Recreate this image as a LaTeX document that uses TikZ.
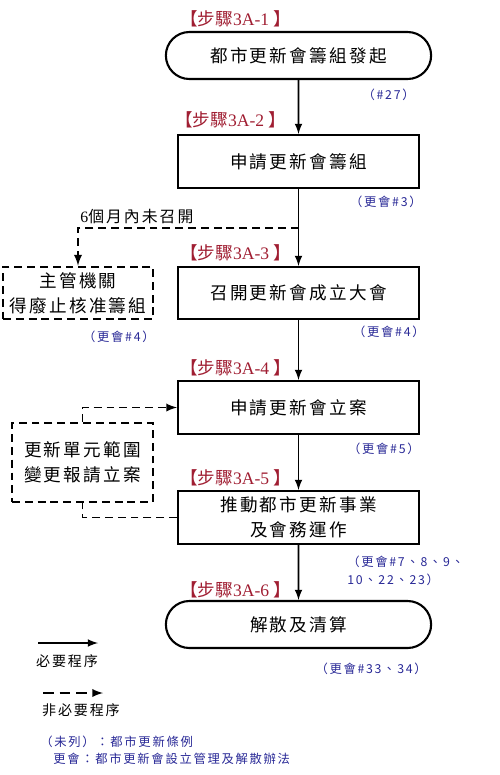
\documentclass[tikz,border=0pt]{standalone}
\usepackage{fontspec}
\setmainfont{Noto Sans CJK TC}
\newfontfamily\latin{Liberation Serif}
\newfontfamily\boxfont[LetterSpace=13]{Noto Sans CJK TC}
\newfontfamily\notefont[LetterSpace=14]{Noto Sans CJK TC}
\usetikzlibrary{shapes.misc}
\definecolor{stepred}{RGB}{160,30,50}
\definecolor{noteblue}{RGB}{40,40,150}
\newcommand{\steplabel}[1]{【步驟{\latin #1}\ 】}

\begin{document}
\begin{tikzpicture}[>=latex, x=0.02cm, y=-0.02cm,
  proc/.style={draw, line width=1.2pt, minimum width=4.82cm, minimum height=1.06cm,
    align=center, font=\boxfont\fontsize{10}{14}\selectfont},
  term/.style={draw, line width=1.2pt, rounded rectangle, minimum width=5.54cm,
    minimum height=0.94cm, font=\boxfont\fontsize{10}{14}\selectfont},
  opt/.style={draw, line width=1.2pt, dash pattern=on 4.5pt off 2.8pt,
    align=center, font=\boxfont\fontsize{10}{14}\selectfont},
  optline/.style={line width=1.1pt, dash pattern=on 4.5pt off 2.8pt},
  mainline/.style={line width=1pt},
  steptag/.style={anchor=west, inner sep=0pt, text=stepred, font=\fontsize{10}{12}\selectfont},
  note/.style={anchor=east, inner sep=0pt, text=noteblue, font=\notefont\fontsize{7}{10}\selectfont}]
\useasboundingbox (0,0) rectangle (500,775);

% main steps
\node[term] (start) at (298.5,55.5) {都市更新會籌組發起};
\node[proc] (apply) at (298.5,161.5) {申請更新會籌組};
\node[proc, minimum height=1.04cm] (convene) at (298.5,293) {召開更新會成立大會};
\node[proc] (register) at (298.5,407.5) {申請更新會立案};
\node[proc] (operate) at (298.5,517.5) {推動都市更新事業\\及會務運作};
\node[term] (finish) at (298.5,624.5) {解散及清算};

% side steps
\node[opt, minimum width=3cm, minimum height=1.04cm] (revoke) at (78,293) {主管機關\\得廢止核准籌組};
\node[opt, minimum width=2.82cm, minimum height=1.58cm] (change) at (82.5,462.5) {更新單元範圍\\變更報請立案};

% step tags
\node[steptag] (tag1) at (180,19) {\steplabel{3A-1}};
\node[steptag] (tag2) at (175,120) {\steplabel{3A-2}};
\node[steptag] (tag3) at (180,253) {\steplabel{3A-3}};
\node[steptag] (tag4) at (180,368) {\steplabel{3A-4}};
\node[steptag] (tag5) at (180,478) {\steplabel{3A-5}};
\node[steptag] (tag6) at (180,590) {\steplabel{3A-6}};

% articles
\node[note] (art1) at (415,95) {（\#27）};
\node[note] (art2) at (422,202) {（更會\#3）};
\node[note] (art3) at (155,337) {（更會\#4）};
\node[note] (art4) at (425,332) {（更會\#4）};
\node[note] (art5) at (420,449) {（更會\#5）};
\node[note, anchor=north west, align=left] (art6) at (347,556) {（更會\#7、8、9、\\10、22、23）};
\node[note] (art7) at (427,669) {（更會\#33、34）};

\draw[->, mainline] (start) -- (apply);
\draw[->, mainline] (apply) -- (convene);
\draw[->, mainline] (convene) -- (register);
\draw[->, mainline] (register) -- (operate);
\draw[->, mainline] (operate) -- (finish);

% optional paths
\coordinate (split) at (298.5,228);
\draw[->, optline] (split) -| (revoke.north);
\node[anchor=base west, inner sep=0pt, font=\boxfont\fontsize{9}{11}\selectfont] (delay) at (80,222) {{\latin 6}個月內未召開};
\draw[->, optline] (change.north) |- (register.west);
\draw[optline] (operate.west) -| (change.south);

% legend
\coordinate (solidA) at (38,643);
\coordinate (solidB) at (98,643);
\draw[->, mainline] (solidA) -- (solidB);
\node[inner sep=0pt, font=\boxfont\fontsize{8}{10}\selectfont] (solidtext) at (67,661) {必要程序};
\coordinate (dashA) at (43,693);
\coordinate (dashB) at (103,693);
\draw[->, optline, dash pattern=on 6pt off 3.5pt] (dashA) -- (dashB);
\node[inner sep=0pt, font=\boxfont\fontsize{8}{10}\selectfont] (dashtext) at (81,710) {非必要程序};
\node[note, anchor=west] (key1) at (40,742) {（未列）：都市更新條例};
\node[note, anchor=west] (key2) at (53,759) {更會：都市更新會設立管理及解散辦法};
\end{tikzpicture}
\end{document}
